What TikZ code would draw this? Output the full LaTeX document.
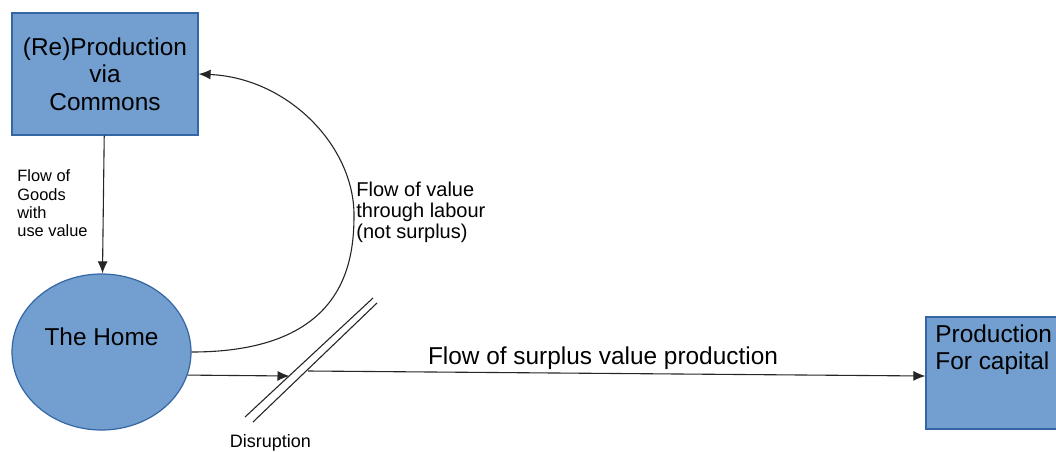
\documentclass[tikz,border=0pt]{standalone}
\usepackage{fontspec}
\setmainfont{Liberation Sans}
\usetikzlibrary{arrows.meta,shapes.geometric,positioning,calc}

\definecolor{boxblue}{HTML}{729FCF}
\definecolor{boxedge}{HTML}{3465A4}

\begin{document}
\begin{tikzpicture}[
    x=0.5pt, y=-0.5pt,
    block/.style={rectangle, draw=boxedge, fill=boxblue, line width=0.6pt},
    homeshape/.style={ellipse, draw=boxedge, fill=boxblue, line width=0.6pt, minimum width=89.5pt, minimum height=78pt, inner sep=0pt},
    line/.style={draw=black!85, -{Latex[length=6pt,width=5pt]}, line width=0.55pt},
    big/.style={font=\fontsize{12.2}{13.75}\selectfont, inner sep=0pt},
    note/.style={font=\fontsize{10}{10.5}\selectfont, align=left, inner sep=0pt},
    small/.style={font=\fontsize{8.2}{9.2}\selectfont, align=left, inner sep=0pt}
]
    \clip (0,0) rectangle (1056,451);

    % boxes and the home
    \node [block, big, minimum width=93pt, minimum height=61pt, align=center] (commons) at (105,74) {(Re)Production\\via\\Commons};
    \node [homeshape] (home) at (101.5,352) {};
    \node [big] (hometext) at ([yshift=7.5pt]home.center) {The Home};
    \node [block, minimum width=70pt, minimum height=56pt] (capital) at (996,373) {};
    \node [big, align=left, anchor=north west] (captext) at (935,324) {Production\\For capital};

    % flows
    \draw [line] (commons) -- (home);
    \draw [line] (home.east) .. controls (345,352) and (354,262) .. (354,215)
        .. controls (354,146) and (288,78) .. (commons.east);

    \coordinate (cut) at (289.5,376);
    \coordinate (resume) at (308,371);
    \draw [line] (home.-15) -- (cut);
    \draw [line] (resume) -- ([yshift=-1.5pt]capital.west);

    % the break in the flow
    \draw [black!85, line width=0.55pt] (245,417) -- (373,298);
    \draw [black!85, line width=0.55pt] (253,422) -- (377,303);

    % labels
    \node [small, anchor=north west] (goodslabel) at (17,169.5) {Flow of\\Goods\\with\\use value};
    \node [note, anchor=north west] (labourlabel) at (356,181.5) {Flow of value\\through labour\\(not surplus)};
    \node [big, anchor=base] (surpluslabel) at (603,364) {Flow of surplus value production};
    \node [font=\fontsize{9}{10}\selectfont, inner sep=0pt, anchor=base] (cutlabel) at (270.5,447) {Disruption};
\end{tikzpicture}
\end{document}
